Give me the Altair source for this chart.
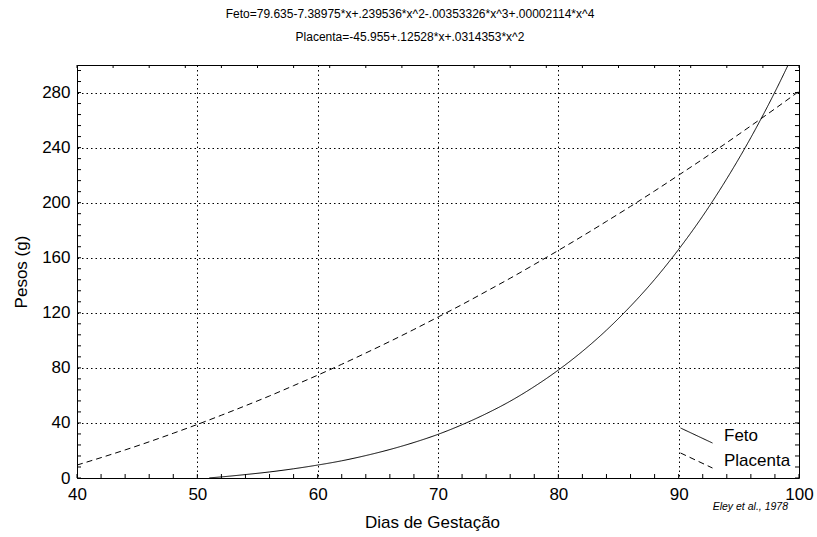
import altair as alt
import pandas as pd

# ---- data ----
feto_days = [51, 52, 54, 56, 58, 60, 62, 64, 66, 68, 70, 72, 74, 76, 78,
             80, 82, 84, 86, 88, 90, 92, 94, 96, 98, 100]
feto_weight = [0.1, 0.8, 2.5, 4.4, 6.7, 9.4, 12.5, 16.3, 20.7, 25.8, 31.7,
               38.7, 46.7, 55.8, 66.4, 78.4, 92.0, 107.4, 124.8, 144.2,
               166.1, 190.3, 217.4, 247.3, 280.4, 316.8]

placenta_days = [40, 42, 44, 46, 48, 50, 52, 54, 56, 58, 60, 62, 64, 66, 68,
                 70, 72, 74, 76, 78, 80, 82, 84, 86, 88, 90, 92, 94, 96, 98, 100]
placenta_weight = [9.4, 14.8, 20.4, 26.3, 32.5, 38.9, 45.6, 52.5, 59.6, 67.1,
                   74.7, 82.6, 90.8, 99.2, 107.9, 116.9, 126.0, 135.5, 145.1,
                   155.1, 165.3, 175.7, 186.4, 197.3, 208.5, 220.0, 231.6,
                   243.6, 255.8, 268.2, 280.9]

series_names = ["Feto", "Placenta"]

x_major = [40, 50, 60, 70, 80, 90, 100]
y_major = [0, 40, 80, 120, 160, 200, 240, 280]
x_bottom_ticks = list(range(40, 101, 2))
x_top_ticks = list(range(40, 101, 3))
y_side_ticks = list(range(0, 301, 8))

title_lines = ["Feto=79.635-7.38975*x+.239536*x^2-.00353326*x^3+.00002114*x^4",
               "Placenta=-45.955+.12528*x+.0314353*x^2"]
source_note = "Eley et al., 1978"

# ---- tables ----
df = pd.concat([
    pd.DataFrame({"day": feto_days, "weight": feto_weight, "series": series_names[0]}),
    pd.DataFrame({"day": placenta_days, "weight": placenta_weight, "series": series_names[1]}),
])

W, H = 722, 413
FONT = "Liberation Sans"
XT = "Dias de Gestação"
YT = "Pesos (g)"

xs = alt.Scale(domain=[40, 100], nice=False, zero=False)
ys = alt.Scale(domain=[0, 300], nice=False)

x_axis = alt.Axis(values=x_major, grid=True, gridColor="black",
                  gridDash=[1.5, 3], gridOpacity=1, gridWidth=1,
                  ticks=False, domain=False, labelFontSize=17,
                  labelFlush=False, labelPadding=8, titleFontSize=17,
                  titleFontWeight="normal", titlePadding=12, titleX=355,
                  labelColor="black", titleColor="black")
y_axis = alt.Axis(values=y_major, grid=True, gridColor="black",
                  gridDash=[1.5, 3], gridOpacity=1, gridWidth=1,
                  ticks=False, domain=False, labelFontSize=17,
                  labelPadding=7, titleFontSize=17,
                  titleFontWeight="normal", titlePadding=11,
                  labelColor="black", titleColor="black")

lines = alt.Chart(df).mark_line(color="black", strokeWidth=1, clip=True,
                                interpolate="monotone").encode(
    x=alt.X("day:Q", scale=xs, title=XT, axis=x_axis),
    y=alt.Y("weight:Q", scale=ys, title=YT, axis=y_axis),
    strokeDash=alt.StrokeDash(
        "series:N",
        scale=alt.Scale(domain=series_names, range=[[1, 0], [6, 4]]),
        legend=alt.Legend(title=None, orient="none", legendX=611, legendY=362,
                          padding=0, symbolType="M-2,-0.94L2,0.94",
                          symbolSize=256, symbolStrokeWidth=1,
                          symbolStrokeColor="black", labelFontSize=17,
                          labelOffset=19, rowPadding=4, labelColor="black")),
)

tick_bottom = alt.Chart(pd.DataFrame({"day": x_bottom_ticks})).mark_rule(
    color="black", strokeWidth=1).encode(
    x=alt.X("day:Q", scale=xs, title=XT, axis=x_axis), y=alt.value(H), y2=alt.value(H - 4))
tick_top = alt.Chart(pd.DataFrame({"day": x_top_ticks})).mark_rule(
    color="black", strokeWidth=1).encode(
    x=alt.X("day:Q", scale=xs, title=XT, axis=x_axis), y=alt.value(0), y2=alt.value(3))
tick_left = alt.Chart(pd.DataFrame({"weight": y_side_ticks})).mark_rule(
    color="black", strokeWidth=1).encode(
    y=alt.Y("weight:Q", scale=ys, title=YT, axis=y_axis), x=alt.value(0), x2=alt.value(4))
tick_right = alt.Chart(pd.DataFrame({"weight": y_side_ticks})).mark_rule(
    color="black", strokeWidth=1).encode(
    y=alt.Y("weight:Q", scale=ys, title=YT, axis=y_axis), x=alt.value(W), x2=alt.value(W - 4))

note = alt.Chart(pd.DataFrame({"t": [source_note]})).mark_text(
    align="right", baseline="middle", fontStyle="italic", fontSize=10.5,
    font=FONT, color="black").encode(
    text="t:N", x=alt.value(711), y=alt.value(442))

chart = alt.layer(lines, tick_bottom, tick_top, tick_left, tick_right, note).properties(
    width=W, height=H,
    title=alt.TitleParams(title_lines, fontSize=12, fontWeight="normal",
                          font=FONT, lineHeight=23, anchor="middle",
                          dx=-28, offset=21, color="black"),
    autosize=alt.AutoSizeParams(type="none"),
    padding={"left": 77, "top": 65, "right": 18, "bottom": 59},
).configure(font=FONT).configure_view(stroke="black", strokeWidth=1)

chart.save("out.html", embed_options={"renderer": "svg", "actions": False})
